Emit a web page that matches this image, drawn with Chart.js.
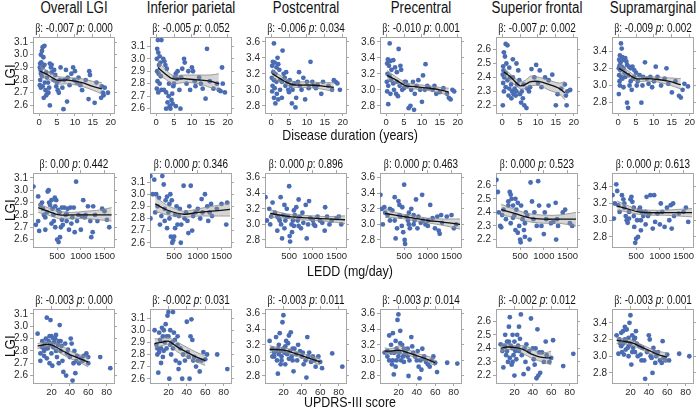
<!DOCTYPE html>
<html>
<head>
<meta charset="utf-8">
<script src="https://cdn.jsdelivr.net/npm/chart.js@4.4.1/dist/chart.umd.min.js"></script>
<style>
  body { margin: 0; background: #fff; }
  #fig { position: relative; width: 697px; height: 408px; overflow: hidden;
         font-family: "Liberation Sans", Arial, sans-serif; color: #111; }
  .t { position: absolute; white-space: nowrap; transform: translateX(-50%) scaleX(0.83); line-height: 1; }
  .ylab { position: absolute; white-space: nowrap; transform: translate(-50%, -50%) rotate(-90deg) scaleX(0.9); line-height: 1; }
  .b { font-family: "Liberation Serif", "DejaVu Serif", serif; }
  canvas { position: absolute; }
</style>
</head>
<body>
<div id="fig"></div>
<script>
// ---- labels ----
const regions = ['Overall LGI', 'Inferior parietal', 'Postcentral', 'Precentral', 'Superior frontal', 'Supramarginal'];
const xTitles = ['Disease duration (years)', 'LEDD (mg/day)', 'UPDRS-III score'];
const betas = [
  ['-0.007', '-0.005', '-0.006', '-0.010', '-0.007', '-0.009'],
  ['0.00', '0.000', '0.000', '0.000', '0.000', '0.000'],
  ['-0.003', '-0.002', '-0.003', '-0.003', '-0.002', '-0.003']
];
const pvals = [
  ['0.000', '0.052', '0.034', '0.001', '0.002', '0.002'],
  ['0.442', '0.346', '0.896', '0.463', '0.523', '0.613'],
  ['0.000', '0.031', '0.011', '0.014', '0.012', '0.001']
];

// ---- ticks ----
const durationTicks = [0, 5, 10, 15, 20];
const leddTicks = [500, 1000, 1500];
const updrsTicks = [20, 40, 60, 80];
const lgiTicks = [
  [2.6, 2.7, 2.8, 2.9, 3.0, 3.1],
  [2.6, 2.7, 2.8, 2.9, 3.0, 3.1],
  [2.8, 3.0, 3.2, 3.4, 3.6],
  [2.8, 3.0, 3.2, 3.4, 3.6],
  [2.2, 2.3, 2.4, 2.5, 2.6],
  [2.8, 3.0, 3.2, 3.4]
];
const xRanges = [[-1.7, 20.9], [-10, 1700], [0, 88]];
const yRanges = [[2.54, 3.14], [2.565, 3.175], [2.71, 3.66], [2.71, 3.66], [2.145, 2.69], [2.68, 3.565]];

// ---- scatter points [x, LGI] ----
const durOverall = [[1.0,3.06],[1.5,3.07],[0.8,3.03],[0.5,3.0],[1.2,2.98],[0.3,2.93],[0.6,2.94],[0.2,2.9],[0.4,2.88],[1,2.9],[1.5,2.92],[0.5,2.85],[0.8,2.83],[0.3,2.8],[1.6,2.78],[0.2,2.76],[0.5,2.74],[1,2.75],[1.8,2.72],[2,2.86],[2.2,2.82],[2.5,2.78],[2.8,2.74],[2.6,2.7],[3,2.93],[3.3,2.9],[3.5,2.92],[3,2.6],[3.5,2.86],[4,2.8],[4.2,2.88],[4.5,2.84],[4.8,2.75],[5,2.78],[5.2,2.72],[5.5,2.7],[5.8,2.8],[6,2.9],[6.5,2.74],[6.8,2.57],[7,2.8],[7.5,2.88],[7.8,2.63],[8,2.82],[8.5,2.76],[9,2.85],[9.5,2.9],[9.8,2.8],[10,2.87],[10.5,2.78],[11,2.82],[11.5,2.76],[12,2.72],[13,2.8],[14,2.87],[14.2,2.84],[13.8,2.65],[15.5,2.62],[16,2.78],[17.5,2.75],[17.8,2.7],[18,2.68],[18.3,2.74],[19.2,2.7],[17.3,2.66],[2,2.68],[1.3,2.66],[2.4,2.7]];
const durInfPar = [[0.5,3.15],[1.5,3.15],[0.3,3.08],[0.6,3.05],[1,3.02],[0.2,3.0],[1.2,2.97],[0.8,2.95],[2,3.0],[2.3,2.98],[2.6,2.95],[3,2.92],[0.3,2.9],[0.7,2.88],[1.3,2.86],[0.4,2.82],[1,2.8],[0.2,2.76],[0.6,2.73],[1.5,2.75],[2.2,2.75],[2.8,2.73],[3.5,2.7],[3.2,2.65],[3.8,2.62],[2.8,2.6],[4,2.6],[4.3,2.67],[4.5,2.72],[4.8,2.78],[5,2.8],[5.2,2.85],[5.5,2.88],[5.8,2.84],[6,2.9],[6.5,2.75],[6.8,2.6],[7,2.85],[7.3,2.92],[7.8,3.0],[8,2.97],[8.5,2.8],[9,2.9],[9.5,2.75],[10,2.93],[10.3,2.9],[10.8,2.82],[11,2.78],[12,2.85],[12.5,2.8],[13,2.76],[13.8,2.68],[14.2,3.08],[15,2.82],[16,2.76],[17,2.8],[17.5,2.75],[18,2.74],[18.4,2.93],[18.6,2.8],[19.2,2.73],[5.5,2.62],[4.6,2.64],[3.6,2.8]];
const durPostc = [[0.8,3.58],[3.2,3.49],[0.5,3.35],[1,3.34],[0.3,3.3],[1.5,3.28],[2,3.32],[2.3,3.25],[0.6,3.22],[1.2,3.2],[0.2,3.15],[0.8,3.12],[1.5,3.1],[0.4,3.05],[1,3.02],[0.3,2.98],[1.6,2.95],[0.8,2.9],[1.2,2.83],[2,2.88],[2.5,3.0],[3,3.1],[3.5,3.2],[3.8,3.15],[4,3.05],[4.2,3.22],[4.5,3.1],[4.8,3.0],[5,2.97],[5.2,3.12],[5.5,3.05],[5.8,2.83],[6,3.0],[6.5,3.08],[6.8,2.78],[7,2.9],[7.5,3.1],[7.8,3.22],[8,3.05],[8.5,3.0],[9,3.15],[9.5,2.88],[10,3.1],[10.5,3.02],[11,3.35],[11.5,3.1],[12,3.05],[12.5,3.02],[13,3.06],[14,2.95],[14.5,3.1],[16,3.05],[17,3.0],[17.5,3.12],[18,3.1],[18.5,3.08],[19.2,3.0],[3,2.9],[2.6,3.12],[1.8,3.4]];
const durPrec = [[1,3.58],[3.5,3.51],[0.5,3.38],[1.2,3.36],[2,3.37],[0.3,3.33],[0.8,3.3],[1.5,3.25],[2.5,3.28],[3,3.22],[4,3.3],[4.2,3.25],[0.4,3.2],[1,3.17],[0.2,3.1],[0.6,3.05],[1.4,3.12],[2,3.08],[0.3,2.98],[1.2,2.95],[0.6,2.82],[2.2,3.0],[2.8,2.95],[3.3,2.92],[3.8,3.05],[4.5,3.0],[5,3.02],[5.5,3.1],[6,3.05],[6.3,2.77],[6.8,2.8],[7,3.0],[7.5,3.1],[8,2.95],[8.5,3.05],[9,3.12],[9.5,3.0],[10,2.85],[10.3,3.18],[10.8,3.0],[11,3.32],[11.5,3.05],[12,3.02],[13,3.0],[13.5,3.05],[14,2.95],[15,2.97],[16,3.02],[17,2.95],[17.5,2.9],[18,2.88],[18.5,3.0],[19,2.98],[5.2,3.1],[3,3.1],[7.8,2.75]];
const durSupFr = [[1,2.64],[1.5,2.63],[0.5,2.58],[0.8,2.55],[1.2,2.5],[0.3,2.48],[2,2.47],[3,2.53],[4,2.5],[0.4,2.45],[1,2.43],[0.2,2.42],[0.6,2.4],[1.5,2.38],[0.3,2.36],[1,2.33],[0.5,2.3],[2.2,2.4],[2.5,2.35],[2.8,2.3],[3.2,2.28],[3.5,2.32],[3.8,2.27],[4,2.3],[4.2,2.35],[4.5,2.45],[4.8,2.38],[5,2.28],[5.3,2.22],[5.5,2.3],[5.8,2.25],[6,2.35],[6.2,2.2],[6.8,2.18],[7,2.32],[7.5,2.3],[7.8,2.33],[8.2,2.46],[9,2.4],[9.5,2.49],[10,2.36],[10.5,2.45],[11,2.33],[12,2.4],[13,2.38],[14,2.42],[15,2.2],[15.5,2.28],[16.5,2.32],[17.5,2.35],[17.8,2.27],[18,2.2],[18.2,2.3],[19,2.31],[0.2,2.2],[2.6,2.25],[1.8,2.27],[3,2.4],[2,2.32]];
const durSupra = [[0.8,3.49],[1,3.43],[0.5,3.35],[1.2,3.33],[0.3,3.3],[0.7,3.27],[1.5,3.3],[2,3.32],[2.3,3.28],[0.4,3.23],[1,3.22],[0.2,3.2],[0.6,3.18],[1.5,3.2],[2.5,3.24],[3,3.22],[3.5,3.2],[4,3.22],[4.5,3.18],[0.3,3.12],[0.8,3.1],[1.2,3.08],[0.4,3.05],[2,3.1],[2.8,3.12],[3.2,3.0],[3.5,3.05],[0.5,3.0],[1.5,2.98],[0.2,2.9],[2.5,2.8],[2.8,2.74],[3.8,2.95],[4.2,3.08],[4.5,3.1],[5,3.15],[5.5,3.05],[6,3.12],[6.5,2.8],[6.8,3.0],[7,3.1],[7.5,3.27],[8,3.08],[8.5,3.02],[9,3.1],[9.5,2.98],[10,3.05],[10.5,3.22],[11,3.1],[12,3.0],[13,3.08],[13.5,3.2],[14,3.02],[15,2.92],[16,3.05],[17,2.88],[17.5,2.86],[18,2.95],[18.5,3.02],[19.5,2.99],[1.8,3.15],[5.2,3.0]];

const leddOverall = [[0,3.03],[50,2.72],[100,2.95],[120,2.67],[100,2.75],[150,2.88],[180,2.9],[200,2.85],[220,2.8],[250,2.78],[280,2.82],[300,2.99],[320,3.0],[330,2.9],[350,2.88],[380,2.92],[400,2.85],[420,2.8],[430,2.75],[450,2.94],[460,2.87],[480,2.92],[500,2.6],[520,2.84],[530,2.58],[550,2.82],[560,2.62],[580,2.7],[600,2.76],[620,2.72],[650,2.86],[680,2.8],[700,2.75],[720,2.85],[750,2.68],[780,2.86],[800,2.73],[820,2.78],[850,2.86],[870,2.66],[900,3.07],[920,2.75],[950,2.8],[1000,2.68],[1020,2.79],[1050,2.92],[1080,2.78],[1100,2.8],[1150,2.87],[1200,2.75],[1220,2.62],[1250,2.66],[1260,2.87],[1300,2.8],[1350,2.75],[1450,2.85],[1500,2.83],[1550,2.76],[1600,2.7],[250,2.68],[380,2.73],[600,2.86],[700,2.81],[460,2.7]];
const leddInfPar = [[0,3.15],[50,3.0],[80,3.12],[100,2.85],[120,3.0],[150,2.9],[200,2.75],[230,2.82],[250,3.15],[280,3.08],[300,2.88],[320,2.95],[350,2.72],[380,2.85],[400,2.8],[420,3.0],[430,2.65],[450,2.95],[460,2.6],[480,2.62],[500,2.65],[520,2.72],[550,2.9],[570,2.75],[600,2.82],[620,2.88],[650,2.75],[700,3.07],[720,2.8],[750,2.85],[780,2.78],[800,2.68],[820,2.9],[850,3.07],[880,2.7],[900,2.82],[950,2.85],[1000,2.88],[1050,2.8],[1080,2.96],[1100,2.85],[1150,3.0],[1200,2.9],[1220,2.78],[1250,2.85],[1280,2.92],[1300,2.82],[1400,2.88],[1500,2.92],[1600,2.75],[1620,2.93],[300,2.78],[180,2.97],[520,2.83],[400,2.92],[640,2.6],[350,2.98],[0,2.8]];
const leddPostc = [[0,3.35],[30,3.05],[80,3.2],[100,3.0],[120,3.1],[150,3.28],[200,3.15],[250,2.92],[280,3.08],[300,3.05],[320,3.35],[330,3.0],[350,2.82],[380,3.12],[400,3.25],[420,3.05],[450,3.2],[480,3.1],[500,3.49],[510,2.85],[520,2.78],[550,3.0],[560,2.9],[580,3.05],[600,3.18],[620,3.12],[650,3.22],[680,3.05],[700,3.32],[720,3.1],[750,2.95],[780,3.15],[800,3.02],[850,3.25],[870,2.82],[900,3.0],[920,3.3],[950,3.08],[1000,3.05],[1020,3.0],[1050,2.98],[1100,3.1],[1150,3.05],[1200,3.02],[1250,2.92],[1260,3.22],[1300,3.1],[1350,3.0],[1400,3.05],[1500,3.08],[1550,3.1],[1600,3.0],[450,3.1],[700,2.98],[600,2.98],[250,3.1],[400,2.95]];
const leddPrec = [[0,3.38],[30,3.2],[50,3.0],[80,3.22],[100,3.15],[150,3.12],[200,3.05],[250,3.18],[300,3.35],[320,2.82],[350,2.95],[380,3.3],[400,3.25],[420,3.1],[450,2.98],[460,3.22],[480,2.9],[500,3.51],[510,2.8],[520,2.75],[550,3.1],[580,3.05],[600,3.15],[620,2.95],[650,3.2],[700,3.0],[720,3.05],[750,3.32],[780,2.95],[800,3.1],[850,3.02],[880,3.38],[900,3.05],[950,3.0],[1000,3.05],[1050,3.25],[1100,3.08],[1150,2.95],[1200,3.1],[1230,2.92],[1250,2.88],[1280,3.12],[1300,3.02],[1400,3.1],[1500,3.12],[1550,2.95],[1600,3.0],[300,3.05],[400,3.12],[600,3.0],[200,3.2],[700,3.12],[1000,2.98]];
const leddSupFr = [[0,2.64],[30,2.55],[50,2.4],[80,2.3],[100,2.29],[120,2.38],[150,2.42],[200,2.35],[250,2.48],[280,2.55],[300,2.53],[320,2.5],[350,2.45],[380,2.38],[400,2.5],[420,2.42],[450,2.47],[480,2.3],[500,2.2],[510,2.18],[520,2.45],[550,2.35],[580,2.27],[600,2.32],[620,2.4],[650,2.38],[700,2.2],[720,2.62],[750,2.48],[780,2.35],[800,2.4],[850,2.3],[880,2.63],[900,2.45],[950,2.3],[1000,2.24],[1020,2.4],[1050,2.35],[1100,2.45],[1150,2.32],[1200,2.33],[1250,2.47],[1260,2.2],[1280,2.35],[1300,2.3],[1400,2.4],[1450,2.42],[1550,2.32],[1600,2.3],[300,2.32],[450,2.25],[350,2.36],[600,2.22],[400,2.27],[250,2.45]];
const leddSupra = [[0,3.3],[30,3.02],[50,3.2],[80,3.43],[100,3.35],[120,3.18],[150,3.1],[200,3.3],[230,3.25],[250,3.15],[280,3.05],[300,3.0],[320,2.97],[350,3.1],[380,3.25],[400,3.28],[420,3.22],[450,3.05],[460,2.92],[480,2.73],[500,2.78],[520,3.0],[540,2.8],[560,3.12],[580,3.15],[600,2.88],[620,3.1],[650,3.05],[700,2.95],[720,3.28],[750,3.05],[780,3.08],[800,3.3],[850,2.9],[880,3.3],[900,2.98],[950,3.08],[1000,2.95],[1020,3.2],[1050,3.1],[1100,2.92],[1150,3.15],[1200,3.0],[1230,3.18],[1250,2.9],[1280,3.2],[1300,3.05],[1400,3.08],[1500,3.1],[1550,3.15],[1600,2.98],[350,3.02],[450,3.15],[700,3.1],[250,3.2],[600,3.0]];

const updrsOverall = [[5,2.94],[8,2.78],[10,2.88],[10,2.83],[12,2.76],[13,2.86],[14,2.9],[15,3.07],[16,2.82],[17,2.88],[18,2.7],[18,2.85],[19,3.05],[20,2.92],[20,2.78],[21,2.68],[22,2.83],[23,2.87],[24,2.9],[25,2.93],[26,2.75],[27,2.85],[28,2.88],[29,3.01],[30,2.8],[31,2.84],[32,2.72],[33,2.63],[35,2.86],[36,2.6],[37,2.78],[38,2.81],[40,2.75],[41,2.9],[42,2.86],[43,2.56],[44,2.7],[45,2.8],[46,2.62],[47,2.72],[48,2.76],[50,2.7],[52,2.74],[54,2.72],[55,2.76],[58,2.78],[60,2.7],[60,2.75],[73,2.75],[84,2.66],[12,2.8],[15,2.74],[25,2.8],[20,2.86],[14,2.82],[18,2.92],[22,2.9],[30,2.88],[8,2.72],[28,2.7]];
const updrsInfPar = [[5,3.0],[7,2.88],[8,2.85],[9,2.65],[10,2.82],[11,2.92],[12,2.73],[13,3.02],[14,2.95],[15,3.0],[16,2.9],[17,3.05],[18,2.85],[19,3.12],[20,3.15],[20,2.95],[21,2.6],[22,2.88],[23,2.8],[24,2.9],[25,3.15],[26,2.98],[27,2.92],[28,2.75],[30,2.88],[31,2.68],[32,2.73],[33,2.85],[35,2.6],[36,2.8],[38,2.75],[40,3.07],[41,2.82],[42,2.78],[43,2.6],[44,2.95],[45,3.09],[46,2.92],[47,2.75],[48,2.78],[50,2.7],[52,2.75],[54,2.66],[56,2.75],[58,2.82],[60,2.76],[62,2.8],[73,2.8],[84,2.68],[12,2.85],[15,2.83],[10,2.98],[18,2.95],[22,3.0],[14,2.78],[25,2.85],[8,2.8],[30,2.95]];
const updrsPostc = [[5,3.25],[8,3.15],[10,3.1],[10,3.05],[12,3.3],[13,3.0],[14,2.83],[15,3.2],[16,3.35],[17,3.12],[18,3.05],[18,3.0],[19,3.49],[20,3.58],[20,3.15],[21,3.1],[22,2.95],[23,3.25],[24,3.08],[25,3.22],[26,3.32],[27,3.12],[28,3.36],[29,3.05],[30,3.0],[31,2.86],[32,3.15],[34,3.08],[35,3.0],[36,3.2],[38,3.12],[40,3.05],[41,3.1],[42,2.95],[44,3.0],[45,2.78],[46,3.3],[47,3.05],[48,3.1],[50,2.98],[52,3.05],[54,3.0],[55,2.92],[58,3.05],[60,2.98],[62,2.9],[73,3.09],[84,2.92],[12,3.12],[15,3.08],[8,3.05],[22,3.18],[26,3.02],[14,3.15],[30,3.15],[17,2.95]];
const updrsPrec = [[5,3.1],[8,3.05],[10,3.0],[10,3.32],[12,3.2],[13,2.95],[14,3.35],[15,2.82],[16,3.1],[17,3.25],[18,3.0],[18,3.15],[19,3.52],[20,3.59],[20,3.05],[21,3.1],[22,3.38],[23,3.0],[24,3.2],[25,3.05],[26,3.15],[27,3.08],[28,3.1],[30,3.05],[31,2.8],[32,3.0],[34,3.3],[35,3.18],[36,3.1],[38,3.05],[40,3.0],[41,3.12],[42,2.92],[43,2.77],[44,3.0],[45,2.88],[46,3.15],[47,3.02],[48,3.05],[50,2.98],[52,2.95],[54,2.92],[56,3.0],[58,3.05],[60,2.97],[62,2.85],[73,2.97],[84,2.96],[12,3.1],[15,3.1],[8,3.12],[22,3.22],[26,2.98],[14,3.0],[30,3.15],[17,2.92]];
const updrsSupFr = [[5,2.43],[7,2.38],[8,2.26],[9,2.42],[10,2.5],[11,2.35],[12,2.45],[13,2.3],[14,2.56],[15,2.63],[16,2.42],[17,2.28],[18,2.5],[18,2.4],[19,2.35],[20,2.2],[20,2.45],[21,2.38],[22,2.32],[23,2.5],[24,2.42],[25,2.56],[26,2.47],[27,2.65],[28,2.35],[30,2.21],[31,2.4],[32,2.3],[33,2.43],[35,2.25],[36,2.38],[38,2.62],[40,2.4],[41,2.32],[42,2.28],[43,2.4],[44,2.18],[45,2.54],[46,2.2],[47,2.37],[48,2.22],[50,2.37],[52,2.3],[54,2.45],[55,2.35],[58,2.3],[60,2.33],[62,2.46],[73,2.27],[84,2.36],[12,2.38],[15,2.33],[10,2.41],[22,2.4],[18,2.3],[25,2.38],[14,2.45]];
const updrsSupra = [[5,3.25],[7,3.03],[8,3.2],[9,3.15],[10,3.28],[11,3.05],[12,3.3],[13,3.02],[14,3.35],[15,3.18],[16,3.32],[17,3.1],[18,3.0],[18,3.22],[19,3.4],[20,3.49],[20,3.15],[21,2.9],[22,3.25],[23,3.1],[24,3.2],[25,3.05],[26,3.3],[27,3.15],[28,3.0],[30,3.12],[31,3.02],[32,2.95],[33,3.1],[35,2.95],[36,2.73],[38,3.05],[40,3.25],[41,3.2],[42,3.0],[43,2.98],[44,2.8],[45,3.1],[46,3.05],[47,2.92],[48,3.0],[50,3.05],[52,2.95],[54,2.92],[55,3.18],[56,2.98],[58,2.95],[60,3.02],[62,2.95],[73,3.03],[84,3.0],[12,3.15],[15,3.08],[10,3.12],[22,3.05],[18,3.12],[25,3.22],[14,3.2]];

// ---- smooth fits [x, fit, lower, upper] ----
const fitDurOverall = [[0.3,2.87,2.82,2.91],[2.5,2.84,2.81,2.87],[5,2.8,2.77,2.83],[8,2.8,2.77,2.82],[12,2.78,2.75,2.81],[15,2.75,2.72,2.79],[17.5,2.73,2.69,2.78]];
const fitDurInfPar = [[0.5,2.93,2.87,2.98],[2.5,2.88,2.84,2.92],[4.5,2.84,2.8,2.87],[8,2.84,2.81,2.87],[12,2.83,2.8,2.87],[15,2.82,2.77,2.87],[17.5,2.8,2.75,2.88]];
const fitDurPostc = [[0.3,3.2,3.14,3.26],[2.5,3.14,3.1,3.18],[4.5,3.09,3.06,3.13],[6.5,3.06,3.03,3.1],[10,3.06,3.03,3.1],[14,3.05,3.01,3.09],[17.5,3.03,2.98,3.09]];
const fitDurPrec = [[0.3,3.18,3.13,3.24],[2.5,3.13,3.09,3.17],[5.5,3.05,3.02,3.09],[8,3.04,3.01,3.07],[12,3.02,2.99,3.05],[15,3.0,2.96,3.03],[17.5,2.97,2.93,3.02]];
const fitDurSupFr = [[0.5,2.44,2.41,2.47],[2.5,2.4,2.37,2.42],[5,2.34,2.32,2.37],[6.5,2.35,2.32,2.38],[8,2.37,2.34,2.41],[10.5,2.37,2.34,2.4],[13,2.35,2.31,2.38],[16,2.32,2.28,2.36],[17.5,2.29,2.24,2.37]];
const fitDurSupra = [[0.3,3.2,3.15,3.24],[2.5,3.14,3.11,3.18],[5,3.08,3.05,3.11],[8,3.08,3.05,3.1],[11,3.07,3.04,3.1],[14,3.05,3.01,3.09],[17.5,3.01,2.96,3.08]];

const fitLeddOverall = [[100,2.86,2.82,2.89],[300,2.83,2.8,2.86],[550,2.8,2.77,2.83],[800,2.8,2.77,2.82],[1100,2.8,2.77,2.83],[1400,2.8,2.76,2.84],[1650,2.8,2.75,2.86]];
const fitLeddInfPar = [[100,2.92,2.86,2.98],[350,2.87,2.83,2.91],[700,2.835,2.81,2.86],[1000,2.85,2.82,2.88],[1300,2.86,2.82,2.9],[1680,2.875,2.82,2.93]];
const fitLeddPostc = [[100,3.14,3.09,3.19],[400,3.11,3.08,3.14],[700,3.09,3.06,3.12],[1000,3.08,3.05,3.11],[1300,3.07,3.04,3.1],[1680,3.06,3.01,3.11]];
const fitLeddPrec = [[100,3.14,3.09,3.2],[400,3.11,3.08,3.14],[700,3.08,3.05,3.11],[1000,3.05,3.02,3.08],[1300,3.03,2.99,3.07],[1680,3.0,2.94,3.07]];
const fitLeddSupFr = [[100,2.42,2.38,2.46],[400,2.39,2.36,2.42],[700,2.36,2.33,2.39],[1000,2.35,2.32,2.38],[1300,2.35,2.32,2.38],[1680,2.35,2.3,2.4]];
const fitLeddSupra = [[100,3.17,3.12,3.23],[300,3.14,3.1,3.18],[550,3.1,3.07,3.13],[800,3.09,3.06,3.12],[1100,3.09,3.06,3.12],[1400,3.09,3.05,3.13],[1680,3.09,3.04,3.14]];

const fitUpdrsOverall = [[5,2.84,2.82,2.86],[12,2.85,2.83,2.87],[20,2.85,2.83,2.87],[30,2.81,2.78,2.85],[40,2.77,2.74,2.8],[50,2.74,2.71,2.77],[60,2.71,2.67,2.75]];
const fitUpdrsInfPar = [[5,2.89,2.85,2.93],[12,2.9,2.87,2.93],[20,2.91,2.88,2.94],[30,2.86,2.82,2.9],[40,2.82,2.78,2.86],[50,2.78,2.74,2.82],[60,2.75,2.71,2.79]];
const fitUpdrsPostc = [[5,3.14,3.1,3.19],[12,3.14,3.11,3.17],[22,3.13,3.1,3.16],[30,3.1,3.07,3.13],[40,3.06,3.03,3.09],[50,3.02,2.99,3.06],[60,2.98,2.94,3.03]];
const fitUpdrsPrec = [[5,3.12,3.08,3.16],[12,3.12,3.09,3.15],[22,3.13,3.09,3.19],[30,3.1,3.07,3.14],[40,3.06,3.03,3.09],[50,3.02,2.99,3.06],[60,2.97,2.93,3.02]];
const fitUpdrsSupFr = [[5,2.4,2.37,2.43],[12,2.41,2.39,2.43],[22,2.405,2.39,2.42],[30,2.39,2.36,2.42],[38,2.36,2.33,2.4],[46,2.34,2.31,2.37],[55,2.33,2.29,2.37],[60,2.33,2.28,2.38]];
const fitUpdrsSupra = [[5,3.19,3.15,3.22],[12,3.18,3.15,3.21],[22,3.16,3.13,3.19],[30,3.12,3.09,3.15],[40,3.07,3.04,3.1],[50,3.02,2.98,3.06],[60,2.99,2.93,3.04]];

const points = [
  [durOverall, durInfPar, durPostc, durPrec, durSupFr, durSupra],
  [leddOverall, leddInfPar, leddPostc, leddPrec, leddSupFr, leddSupra],
  [updrsOverall, updrsInfPar, updrsPostc, updrsPrec, updrsSupFr, updrsSupra]
];
const fits = [
  [fitDurOverall, fitDurInfPar, fitDurPostc, fitDurPrec, fitDurSupFr, fitDurSupra],
  [fitLeddOverall, fitLeddInfPar, fitLeddPostc, fitLeddPrec, fitLeddSupFr, fitLeddSupra],
  [fitUpdrsOverall, fitUpdrsInfPar, fitUpdrsPostc, fitUpdrsPrec, fitUpdrsSupFr, fitUpdrsSupra]
];
const xTicks = [durationTicks, leddTicks, updrsTicks];

// ---- layout ----
const colLeft = [33, 150, 265, 380, 496, 612];
const boxW = 81;
const rowTop = [37, 173, 309];
const rowH = [76, 74, 74];
const xTitleTop = [127, 263, 394];
const yAxW = 30, topPad = 10, rightPad = 8, xAxH = 18;
const frame = '#a6a6a6';

Chart.defaults.font.family = '"Liberation Sans", Arial, sans-serif';
Chart.defaults.color = '#222';

const fig = document.getElementById('fig');

function addText(cls, html, left, top, size) {
  const d = document.createElement('div');
  d.className = cls;
  d.innerHTML = html;
  d.style.left = left + 'px';
  d.style.top = top + 'px';
  d.style.fontSize = size + 'px';
  fig.appendChild(d);
  return d;
}

function tickSetter(vals) {
  return axis => { axis.ticks = vals.map(v => ({ value: v })); };
}

function axis(pos, range, vals, showLabels, decimals, size) {
  const horiz = pos === 'top' || pos === 'bottom';
  return {
    type: 'linear', position: pos, min: range[0], max: range[1],
    afterBuildTicks: tickSetter(vals),
    afterFit: s => { if (horiz) s.height = size; else s.width = size; },
    border: { display: true, color: frame, width: 1 },
    grid: { drawOnChartArea: false, drawTicks: true, tickLength: 3, color: frame },
    ticks: {
      display: showLabels, autoSkip: false, maxRotation: 0, padding: horiz ? 1 : 2,
      font: { size: horiz ? 9.5 : 10 }, color: '#2a2a2a',
      callback: v => decimals ? Number(v).toFixed(decimals) : String(v)
    }
  };
}

function makePanel(r, c) {
  const W = boxW, H = rowH[r];
  const cv = document.createElement('canvas');
  cv.width = yAxW + W + rightPad;
  cv.height = topPad + H + xAxH;
  cv.style.left = (colLeft[c] - yAxW) + 'px';
  cv.style.top = (rowTop[r] - topPad) + 'px';
  fig.appendChild(cv);

  const fit = fits[r][c];
  const line = (i) => fit.map(f => ({ x: f[0], y: f[i] }));

  new Chart(cv.getContext('2d'), {
    type: 'scatter',
    data: {
      datasets: [
        { type: 'line', data: line(1), borderColor: '#111', borderWidth: 1.3, pointRadius: 0, tension: 0.3, fill: false },
        { type: 'line', data: line(2), borderColor: '#8a8a8a', borderWidth: 0.8, pointRadius: 0, tension: 0.3, fill: false },
        { type: 'line', data: line(3), borderColor: '#8a8a8a', borderWidth: 0.8, pointRadius: 0, tension: 0.3,
          fill: '-1', backgroundColor: 'rgba(150,150,150,0.4)' },
        { type: 'scatter', data: points[r][c].map(p => ({ x: p[0], y: p[1] })),
          pointRadius: 2.4, pointBackgroundColor: '#4a6cb3', pointBorderWidth: 0 }
      ]
    },
    options: {
      responsive: false, animation: false, devicePixelRatio: 1,
      layout: { padding: 0 },
      plugins: { legend: { display: false }, tooltip: { enabled: false } },
      scales: {
        x: axis('bottom', xRanges[r], xTicks[r], true, 0, xAxH),
        x2: axis('top', xRanges[r], xTicks[r], false, 0, topPad),
        y: axis('left', yRanges[c], lgiTicks[c], true, 1, yAxW),
        y2: axis('right', yRanges[c], lgiTicks[c], false, 1, rightPad)
      }
    }
  });

  const cx = colLeft[c] + W / 2;
  addText('t', '<span class="b">\u03b2</span>: ' + betas[r][c] + ' <i>p</i>: ' + pvals[r][c], cx, rowTop[r] - 15, 12);
}

regions.forEach((name, c) => addText('t', name, colLeft[c] + boxW / 2, 0, 16));
for (let r = 0; r < 3; r++) {
  for (let c = 0; c < 6; c++) makePanel(r, c);
  addText('ylab', 'LGI', 9, rowTop[r] + rowH[r] / 2, 15);
  addText('t', xTitles[r], 350, xTitleTop[r], 15);
}
</script>
</body>
</html>
